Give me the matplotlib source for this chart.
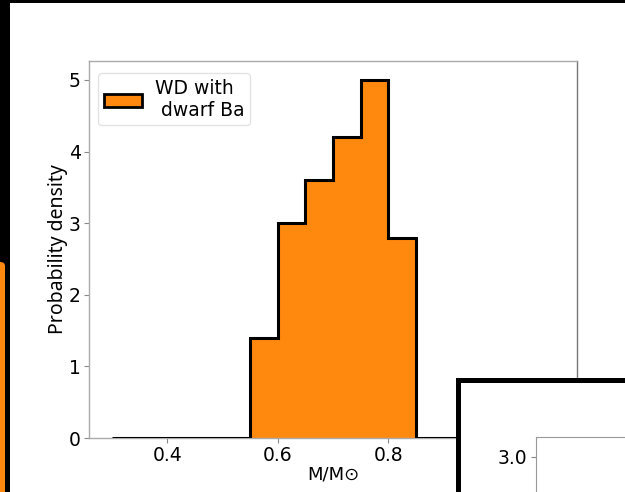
import matplotlib
matplotlib.use("Agg")
import matplotlib.pyplot as plt
from matplotlib.patches import Rectangle, FancyBboxPatch
import numpy as np

# Data
bin_edges = [0.30, 0.35, 0.40, 0.45, 0.50, 0.55, 0.60, 0.65, 0.70, 0.75,
             0.80, 0.85, 0.90, 0.95, 1.00, 1.05, 1.10]
density = [0.0, 0.0, 0.0, 0.0, 0.0, 1.4, 3.0, 3.6, 4.2, 5.0, 2.8,
           0.0, 0.0, 0.0, 0.0, 0.0]
series_label = "WD with\n dwarf Ba"
x_ticks = [0.4, 0.6, 0.8]
x_tick_labels = ["0.4", "0.6", "0.8"]
y_ticks = [0, 1, 2, 3, 4, 5]
inset_y_ticks = [3.0]
inset_y_labels = ["3.0"]

W, H = 625, 492
fig = plt.figure(figsize=(W / 100, H / 100), dpi=100)
fig.patch.set_facecolor("white")

orange = "#ff880f"
grey = "#aaaaaa"

ax = fig.add_axes([89 / W, 1 - 438 / H, (577 - 89) / W, (438 - 61) / H])
ax.stairs(density, bin_edges, fill=True, facecolor=orange, edgecolor="none",
          zorder=2)
ax.stairs(density, bin_edges, fill=False, color="black", linewidth=2.2,
          baseline=0, zorder=3)
ax.set_xlim(0.258, 1.142)
ax.set_ylim(0, 5.265)
ax.set_xticks(x_ticks)
ax.set_xticklabels(x_tick_labels)
ax.set_yticks(y_ticks)
ax.tick_params(labelsize=13.5, color="#888888", length=3.5, pad=2.5)
for side, sp in ax.spines.items():
    sp.set_color(grey if side != "right" else "#777777")
    sp.set_linewidth(1.0)
ax.set_xlabel("M/M\u2299", fontsize=13, labelpad=0)
ax.set_ylabel("Probability density", fontsize=14, family=["Noto Sans", "DejaVu Sans"],
              labelpad=0.5)

handle = Rectangle((0, 0), 1, 1, facecolor=orange, edgecolor="black", linewidth=2)
leg = ax.legend([handle], [series_label], loc="upper left", fontsize=13.5,
                frameon=True, borderpad=0.3, handlelength=2.0, labelspacing=0.2,
                handletextpad=0.7, bbox_to_anchor=(0.0, 0.993))
leg.get_frame().set_edgecolor("#dddddd")

# Frame decorations (cropped screenshot edges)
fig.add_artist(Rectangle((0, 1 - 3 / H), 1, 3 / H, transform=fig.transFigure,
                         facecolor="black", edgecolor="none", zorder=10))
fig.add_artist(Rectangle((0, 0), 10 / W, 1, transform=fig.transFigure,
                         facecolor="black", edgecolor="none", zorder=10))
fig.add_artist(FancyBboxPatch((-5 / W, -10 / H), 10 / W, (492 - 262 + 10) / H,
                              boxstyle="round,pad=0,rounding_size=0.008",
                              transform=fig.transFigure, facecolor=orange,
                              edgecolor="none", zorder=11))

# Inset box
fig.add_artist(Rectangle((457.5 / W, -20 / H), 200 / W, (492 - 379.5 + 20) / H,
                         transform=fig.transFigure, facecolor="white",
                         edgecolor="black", linewidth=3.6, zorder=5,
                         joinstyle="miter"))
iax = fig.add_axes([536 / W, -0.5, 0.3, 0.5 + 55 / H])
iax.set_zorder(6)
iax.set_ylim(0, 3.213)
iax.set_yticks(inset_y_ticks)
iax.set_yticklabels(inset_y_labels)
iax.set_xticks([])
iax.tick_params(labelsize=13.5, color="#888888", length=3.5, pad=2.5)
for sp in iax.spines.values():
    sp.set_color("#999999")

fig.savefig("out.png", dpi=100)
